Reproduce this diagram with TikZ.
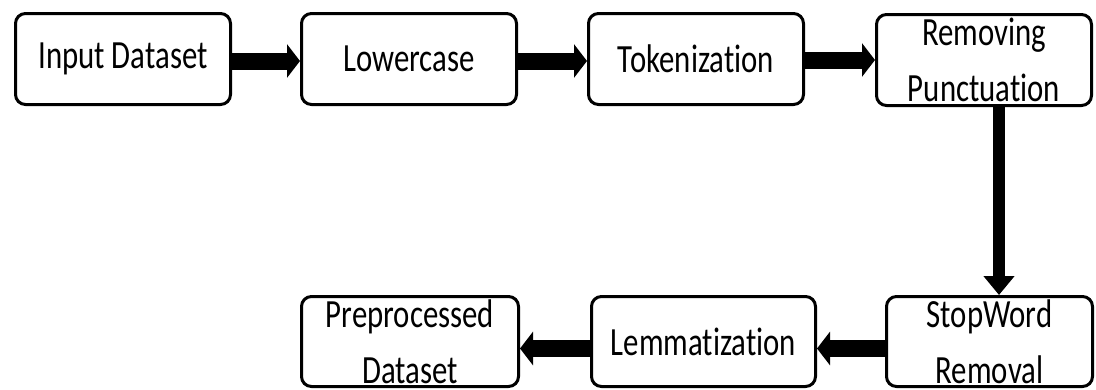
\documentclass[tikz,border=0pt]{standalone}
\usepackage{fontspec}
\setmainfont{Carlito}[FakeStretch=0.77, RawFeature={-liga;-clig;-dlig}]
\usetikzlibrary{arrows.meta}
\begin{document}
\begin{tikzpicture}[x=1pt,y=1pt,
  stepbox/.style={draw=black, line width=3pt, rounded corners=10pt, fill=white,
    inner sep=0pt, align=center, font=\fontsize{40}{56}\selectfont},
  harrow/.style={line width=17pt, -{Triangle[width=33pt,length=13pt]}},
  varrow/.style={line width=12pt, -{Triangle[width=30pt,length=19pt]}}]
\useasboundingbox (0,0) rectangle (1096,-389);
\node[stepbox, minimum width=215pt, minimum height=91pt] (in) at (123,-59) {Input Dataset};
\node[stepbox, minimum width=215pt, minimum height=91pt] (low) at (409,-59) {Lowercase};
\node[stepbox, minimum width=215pt, minimum height=91pt] (tok) at (696,-59) {Tokenization};
\node[stepbox, minimum width=215pt, minimum height=91pt] (rem) at (984,-60) {Removing\\Punctuation};
\node[stepbox, minimum width=206pt, minimum height=90pt] (stop) at (989.5,-341.5) {StopWord\\Removal};
\node[stepbox, minimum width=224pt, minimum height=90pt] (lem) at (703.5,-341.5) {Lemmatization};
\node[stepbox, minimum width=217pt, minimum height=90pt] (pre) at (410,-341.5) {Preprocessed\\Dataset};
\draw[harrow] ([yshift=-2pt]in.east) -- ([yshift=-2pt]low.west);
\draw[harrow] ([yshift=-2pt]low.east) -- ([yshift=-2pt]tok.west);
\draw[harrow] ([yshift=-1pt]tok.east) -- ([yshift=-1pt]tok.east -| rem.west);
\draw[varrow] ([xshift=15pt]rem.south) -- ([xshift=15pt]rem.south |- stop.north);
\draw[harrow] ([yshift=-7pt]stop.west) -- ([yshift=-7pt]stop.west -| lem.east);
\draw[harrow] ([yshift=-7pt]lem.west) -- ([yshift=-7pt]lem.west -| pre.east);
\end{tikzpicture}
\end{document}
